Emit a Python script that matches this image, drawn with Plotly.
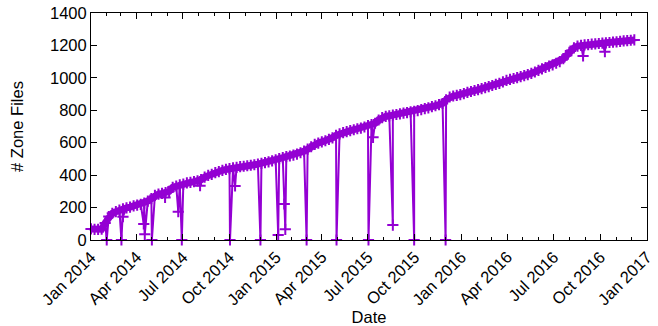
import pandas as pd
import plotly.graph_objects as go

# Weekly readings of the zone-file count, starting 2014-01-01
start_date = "2014-01-01"
weekly_counts = [
    68, 66, 65, 67, 105, 145, 165, 175, 185, 192, 198, 203, 210, 215, 220, 228,
    240, 255, 275, 283, 288, 292, 300, 325, 333, 340, 345, 352, 355, 360, 365, 372,
    388, 398, 405, 415, 422, 430, 435, 440, 445, 448, 452, 455, 458, 461, 464, 468,
    472, 477, 482, 488, 495, 502, 508, 514, 518, 524, 530, 538, 548, 560, 575, 590,
    598, 605, 612, 620, 630, 645, 655, 662, 668, 674, 680, 686, 690, 697, 705, 712,
    720, 740, 755, 762, 766, 770, 774, 778, 782, 786, 790, 794, 798, 804, 810, 815,
    822, 828, 835, 842, 865, 882, 888, 892, 896, 903, 910, 916, 922, 928, 934, 940,
    946, 953, 960, 966, 975, 985, 991, 996, 1002, 1008, 1014, 1020, 1028, 1036, 1046, 1056,
    1064, 1072, 1080, 1090, 1100, 1118, 1140, 1165, 1185, 1196, 1200, 1203, 1205, 1208, 1210, 1212,
    1214, 1216, 1218, 1220, 1222, 1225, 1228, 1230, 1232, 1234,
]

# Days with anomalous readings (drops / outliers)
anomaly_dates = [
    "2014-02-01", "2014-03-02", "2014-03-05", "2014-04-15", "2014-04-17", "2014-05-01",
    "2014-05-27", "2014-06-22", "2014-06-29", "2014-08-04", "2014-10-02", "2014-10-12",
    "2014-12-01", "2015-01-05", "2015-01-17", "2015-01-19", "2015-03-02", "2015-04-30",
    "2015-07-02", "2015-07-11", "2015-08-19", "2015-09-30", "2015-12-01", "2016-08-28",
    "2016-10-10",
]
anomaly_counts = [
    0, 0, 144, 99, 35, 0,
    262, 175, 0, 335, 0, 333,
    0, 31, 222, 66, 0, 0,
    0, 633, 92, 0, 0, 1135,
    1161,
]

y_ticks = [0, 200, 400, 600, 800, 1000, 1200, 1400]

weekly_dates = pd.date_range(start_date, periods=len(weekly_counts), freq="7D")
df = pd.concat([
    pd.DataFrame({"date": weekly_dates, "count": weekly_counts}),
    pd.DataFrame({"date": pd.to_datetime(anomaly_dates), "count": anomaly_counts}),
]).sort_values("date")

color = "#9400D3"
fig = go.Figure()
# dense band of daily markers (drawn as a thick stroke through the weekly readings)
fig.add_trace(go.Scatter(
    x=weekly_dates, y=weekly_counts, mode="lines",
    line=dict(color=color, width=7),
    cliponaxis=False, showlegend=False, hoverinfo="skip",
))
fig.add_trace(go.Scatter(
    x=df["date"], y=df["count"], mode="lines+markers",
    line=dict(color=color, width=2),
    marker=dict(symbol="cross-thin", size=8, line=dict(color=color, width=2)),
    cliponaxis=False, showlegend=False,
))

font = dict(family="Liberation Sans, Arial, sans-serif", size=16.5, color="black")
fig.update_layout(
    width=658, height=326,
    margin=dict(l=91, r=11, t=13, b=86),
    paper_bgcolor="white", plot_bgcolor="white",
    font=font,
)
fig.update_xaxes(
    range=["2014-01-01", "2017-01-01"], type="date", automargin=False,
    dtick="M3", tick0="2014-01-01", tickformat="%b %Y", tickangle=-45,
    ticks="inside", ticklen=6, tickcolor="black", tickwidth=1,
    minor=dict(dtick="M1", ticks="inside", ticklen=3, tickcolor="black", showgrid=False),
    showline=True, linecolor="black", linewidth=1, mirror="allticks",
    showgrid=False, zeroline=False,
    title=dict(text="Date", font=font, standoff=8),
)
fig.update_yaxes(
    range=[0, 1400], tickvals=y_ticks, automargin=False,
    ticks="inside", ticklen=6, tickcolor="black", tickwidth=1,
    showline=True, linecolor="black", linewidth=1, mirror="allticks",
    showgrid=False, zeroline=False,
    title=dict(text="# Zone Files", font=font, standoff=22),
)
fig.write_html(
    "out.html",
    config={"displayModeBar": False},
    post_script="document.body.style.margin='0';document.body.style.overflow='hidden';",
)
